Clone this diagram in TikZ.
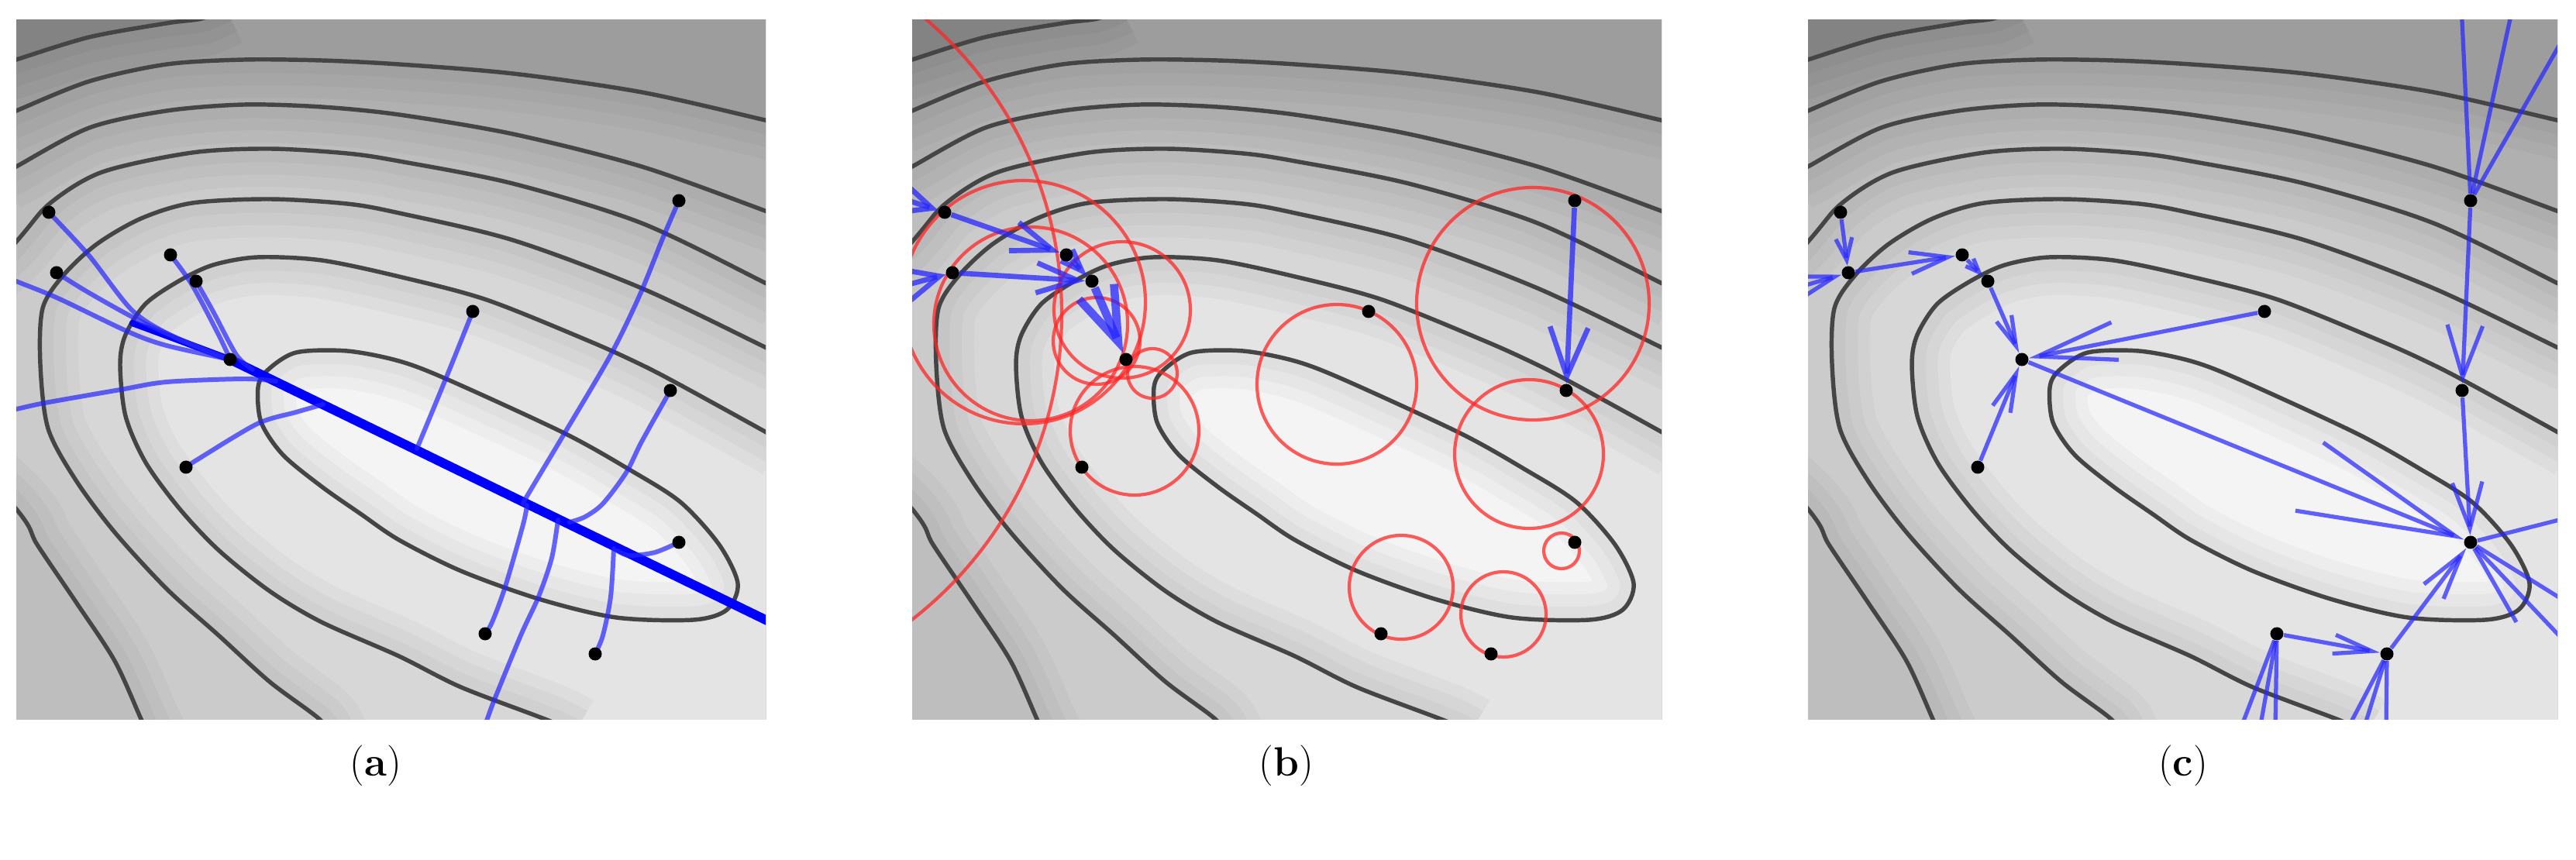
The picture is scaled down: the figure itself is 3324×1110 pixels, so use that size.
\documentclass[tikz,border=0pt]{standalone}
\usetikzlibrary{arrows.meta}
\definecolor{g0}{gray}{0.53}
\definecolor{g1}{gray}{0.615}
\definecolor{g2}{gray}{0.69}
\definecolor{g3}{gray}{0.745}
\definecolor{g4}{gray}{0.795}
\definecolor{g5}{gray}{0.845}
\definecolor{g6}{gray}{0.895}
\definecolor{g7}{gray}{0.955}
\definecolor{cline}{gray}{0.27}
\definecolor{tblue}{rgb}{0.15,0.15,1}
\definecolor{cred}{rgb}{1,0.15,0.15}
\tikzset{
  contour/.style={draw=cline, line width=1.55pt},
  dotspot/.style={circle, inner sep=0pt, minimum size=0.17cm},
  traj/.style={draw=tblue, line width=1.7pt, draw opacity=0.7, line cap=round},
  valley/.style={draw=blue, line width=3.4pt},
  ring/.style={draw=cred, line width=1.2pt, draw opacity=0.75},
  mvb/.style={draw=tblue, line width=1.9pt, draw opacity=0.75},
  mvc/.style={draw=tblue, line width=1.5pt, draw opacity=0.72},
  hd/.style 2 args={-{Straight Barb[length=#1,width=#2]}},
  darken/.style={draw=black, draw opacity=0.028, line width=#1},
  lab/.style={font=\fontsize{15}{17}\selectfont, inner sep=0pt}
}
\def\LoneP{plot[smooth] coordinates {(-20,58) (0,51) (94,22) (194,4) (239,-2) (270,-15)}}
\def\LtwoP{plot[smooth] coordinates {(-20,126) (0,117) (94,79) (194,57) (294,51) (394,52) (494,57) (641,69) (807,93) (966,129) (990,135)}}
\def\LthreeP{plot[smooth] coordinates {(-20,200) (0,189) (94,139) (194,117) (294,109) (394,112) (494,122) (641,147) (807,189) (966,246) (990,256)}}
\def\LfourP{plot[smooth] coordinates {(172,925) (161,902) (127,827) (77,751) (27,677) (0,631) (-150,460) (0,286) (44,236) (111,196) (227,171) (327,166) (427,172) (494,182) (641,211) (807,262) (966,339) (990,352)}}
\def\LfiveP{plot[smooth] coordinates {(405,925) (391,902) (327,854) (261,794) (194,734) (127,661) (77,594) (41,527) (31,444) (34,372) (61,329) (104,289) (161,256) (227,236) (327,231) (427,237) (494,249) (641,284) (807,346) (966,422) (990,434)}}
\def\LsixP{plot[smooth] coordinates {(720,920) (687,904) (574,861) (494,821) (394,777) (327,737) (261,684) (211,631) (167,571) (141,511) (134,444) (141,406) (167,366) (211,336) (254,316) (311,306) (394,310) (494,331) (607,361) (741,415) (807,445) (857,471) (966,531) (990,545)}}
\def\LsevenP{plot[smooth cycle] coordinates {(312,474) (324,452) (361,429) (427,427) (494,440) (557,464) (707,533) (791,580) (857,622) (907,677) (931,727) (917,761) (874,774) (774,771) (674,747) (574,711) (494,671) (444,637) (394,602) (344,561) (316,519)}}
\def\RoneP{\LoneP -- (1000,-30) -- (1000,940) -- (-30,940) -- cycle}
\def\RtwoP{\LtwoP -- (1000,940) -- (-30,940) -- cycle}
\def\RthreeP{\LthreeP -- (1000,940) -- (-30,940) -- cycle}
\def\RfourP{\LfourP -- (1000,940) -- (172,940) -- cycle}
\def\RfiveP{\LfiveP -- (1000,940) -- cycle}
\def\RsixP{\LsixP -- (1000,940) -- cycle}
\newcommand\band[3]{%
  \fill[#1] #2;
  \begin{scope}
    \clip #2;
    \draw[darken=28pt] #3;
    \draw[darken=19pt] #3;
    \draw[darken=10pt] #3;
  \end{scope}}
\newcommand\contourbg{%
  \fill[g0] (-5,-5) rectangle (972,907);
  \draw[darken=40pt] (-10,-10) -- (300,-10);
  \band{g1}{\RoneP}{\LoneP}
  \band{g2}{\RtwoP}{\LtwoP}
  \band{g3}{\RthreeP}{\LthreeP}
  \band{g4}{\RfourP}{\LfourP}
  \band{g5}{\RfiveP}{\LfiveP}
  \band{g6}{\RsixP}{\LsixP}
  \band{g7}{\LsevenP}{\LsevenP}
  \draw[contour] \LoneP;
  \draw[contour] \LtwoP;
  \draw[contour] \LthreeP;
  \draw[contour] \LfourP;
  \draw[contour] \LfiveP;
  \draw[contour] \LsixP;
  \draw[contour] \LsevenP;
}
\newcommand\placedots[1]{%
  \foreach \i/\x/\y in {1/42/248, 2/52/326, 3/199/303, 4/232/337, 5/276/438, 6/589/376,
                        7/855/233, 8/844/478, 9/219/577, 10/855/674, 11/605/792, 12/747/818}
    \node[dotspot] (#1\i) at (\x,\y) {};
}
\newcommand\filldots[1]{%
  \foreach \i in {1,...,12} \fill (#1\i.center) circle (8.5);
}
\begin{document}
\begin{tikzpicture}[x=0.01cm,y=-0.01cm]
\useasboundingbox (0,0) rectangle (3324,1110);
\fill[white] (0,0) rectangle (3324,1110);

% ---------------- panel (a) ----------------
\begin{scope}[shift={(21,26)}]
  \begin{scope}
    \clip (0,0) rectangle (967,902);
    \contourbg
    \placedots{a}
    \draw[valley, line width=2.4pt, line cap=round] plot[smooth] coordinates {(150,391) (212,414) (a5.center)};
    \draw[valley] (a5.center) -- (1010,795);
    \draw[traj] plot[smooth] coordinates {(a1.center) (94,304) (151,376) (210,412) (a5.center)};
    \draw[traj] plot[smooth] coordinates {(-20,328) (0,337) (54,359) (144,402) (194,420) (a5.center)};
    \draw[traj] plot[smooth] coordinates {(a2.center) (94,352) (161,389) (230,420) (a5.center)};
    \draw[traj] plot[smooth] coordinates {(a3.center) (227,342) (261,406) (a5.center)};
    \draw[traj] plot[smooth] coordinates {(a4.center) (254,376) (284,432) (305,451)};
    \draw[traj] plot[smooth] coordinates {(-20,505) (0,502) (37,494) (134,477) (194,467) (294,463) (335,466)};
    \draw[traj] plot[smooth] coordinates {(a9.center) (234,567) (311,521) (361,506) (396,496)};
    \draw[traj] plot[smooth] coordinates {(a6.center) (557,456) (517,553)};
    \draw[traj] plot[smooth] coordinates {(a7.center) (834,282) (804,356) (767,432) (707,534) (661,611) (654,624)};
    \draw[traj] plot[smooth] coordinates {(600,920) (607,904) (617,877) (651,794) (674,744) (691,694) (699,645)};
    \draw[traj] plot[smooth] coordinates {(a11.center) (614,777) (631,731) (654,651) (659,626)};
    \draw[traj] plot[smooth] coordinates {(a12.center) (757,794) (767,744) (771,682)};
    \draw[traj] plot[smooth] coordinates {(a8.center) (807,544) (787,584) (757,624) (734,641) (714,648)};
    \draw[traj] plot[smooth] coordinates {(a10.center) (824,687) (791,691) (776,685)};
    \filldots{a}
  \end{scope}
\end{scope}

% ---------------- panel (b) ----------------
\begin{scope}[shift={(1177,26)}]
  \begin{scope}
    \clip (0,0) rectangle (967,902);
    \contourbg
    \placedots{b}
    \draw[ring] (801,366) circle (150);
    \draw[ring] (796,560) circle (96);
    \draw[ring] (548,470) circle (103);
    \draw[ring] (631,732) circle (67);
    \draw[ring] (763,767) circle (55);
    \draw[ring] (838,685) circle (23);
    \draw[ring] (287,530) circle (83);
    \draw[ring] (-307,379) circle (500);
    \draw[ring] (144,364) circle (157);
    \draw[ring] (153,392) circle (125);
    \draw[ring] (271,374) circle (88);
    \draw[ring] (238,414) circle (56);
    \draw[ring] (310,456) circle (32);
    \coordinate (bL1) at (-45,220);
    \coordinate (bL2) at (-45,352);
    \draw[mvb, hd={13pt}{12pt}] (bL1) -- (b1);
    \draw[mvb, hd={13pt}{12pt}] (bL2) -- (b2);
    \draw[mvb, hd={15pt}{11pt}] (b1) -- (b3);
    \draw[mvb, hd={15pt}{11pt}] (b2) -- (b4);
    \draw[mvb, hd={8pt}{6pt}] (b3) -- (b4);
    \draw[mvb, line width=3pt, hd={20pt}{14pt}] (b4) -- (b5);
    \draw[mvb, hd={18pt}{14pt}] (b7) -- (b8);
    \filldots{b}
  \end{scope}
\end{scope}

% ---------------- panel (c) ----------------
\begin{scope}[shift={(2333,26)}]
  \begin{scope}
    \clip (0,0) rectangle (967,902);
    \contourbg
    \placedots{c}
    \coordinate (cT1) at (843,-20);
    \coordinate (cT2) at (910,-20);
    \coordinate (cT3) at (985,5);
    \draw[mvc] (c7) -- (cT1);
    \draw[mvc] (c7) -- (cT2);
    \draw[mvc] (c7) -- (cT3);
    \draw[mvc, hd={19pt}{13pt}] (c7) -- (c8);
    \draw[mvc, hd={17pt}{11pt}] (c8) -- (c10);
    \draw[mvc, hd={58pt}{27pt}] (c5) -- (c10);
    \draw[mvc, hd={29pt}{14pt}] (c6) -- (c5);
    \draw[mvc, hd={11pt}{6pt}] (c4) -- (c5);
    \draw[mvc, hd={14pt}{7pt}] (c9) -- (c5);
    \draw[mvc, hd={5pt}{4pt}] (c3) -- (c4);
    \draw[mvc, hd={14pt}{8pt}] (c2) -- (c3);
    \draw[mvc, hd={8pt}{6pt}] (c1) -- (c2);
    \coordinate (cL) at (-150,385);
    \draw[mvc, hd={15pt}{9pt}] (cL) -- (c2);
    \draw[mvc, hd={14pt}{7pt}] (c11) -- (c12);
    \draw[mvc, hd={17pt}{9pt}] (c12) -- (c10);
    \coordinate (cB1) at (558,915);
    \coordinate (cB2) at (583,915);
    \coordinate (cB3) at (603,915);
    \coordinate (cB4) at (696,915);
    \coordinate (cB5) at (717,915);
    \coordinate (cB6) at (746,915);
    \foreach \e in {cB1,cB2,cB3} \draw[mvc] (c11) -- (\e);
    \foreach \e in {cB4,cB5,cB6} \draw[mvc] (c12) -- (\e);
    \coordinate (cR1) at (985,641);
    \coordinate (cR2) at (985,755);
    \coordinate (cR3) at (985,811);
    \coordinate (cR4) at (914,777);
    \foreach \e in {cR1,cR2,cR3,cR4} \draw[mvc] (c10) -- (\e);
    \filldots{c}
  \end{scope}
\end{scope}

% ---------------- labels ----------------
\node[lab] (la) at (485,988) {(\textbf{a})};
\node[lab] (lb) at (1660,988) {(\textbf{b})};
\node[lab] (lc) at (2817,988) {(\textbf{c})};
\end{tikzpicture}
\end{document}
